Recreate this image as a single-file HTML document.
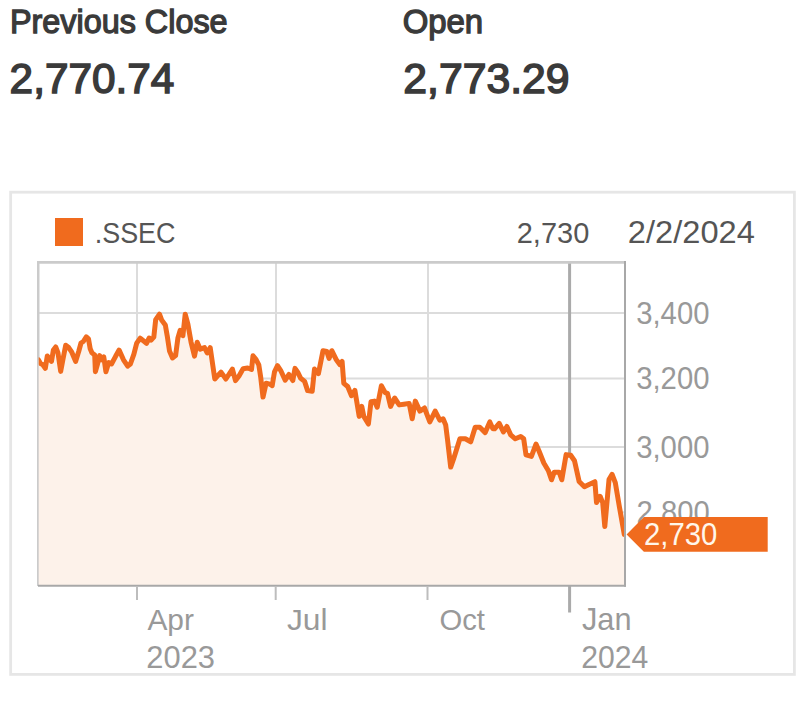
<!DOCTYPE html>
<html><head><meta charset="utf-8"><style>
html,body{margin:0;padding:0;background:#fff;width:800px;height:718px;overflow:hidden}
svg{position:absolute;left:0;top:0;display:block}
</style></head><body>
<svg width="800" height="718" viewBox="0 0 800 718" font-family="Liberation Sans, sans-serif">
<text x="9.96" y="33.35" font-size="32.99" textLength="217.67" lengthAdjust="spacingAndGlyphs" fill="#3a3a3a" stroke="#3a3a3a" stroke-width="1.3">Previous Close</text>
<text x="9.64" y="93.15" font-size="41.86" textLength="164.77" lengthAdjust="spacingAndGlyphs" fill="#3a3a3a" stroke="#3a3a3a" stroke-width="1.5">2,770.74</text>
<text x="402.64" y="33.35" font-size="32.99" textLength="80.52" lengthAdjust="spacingAndGlyphs" fill="#3a3a3a" stroke="#3a3a3a" stroke-width="1.3">Open</text>
<text x="403.26" y="93.15" font-size="41.86" textLength="166.33" lengthAdjust="spacingAndGlyphs" fill="#3a3a3a" stroke="#3a3a3a" stroke-width="1.5">2,773.29</text>
<rect x="10.65" y="192.2" width="783.75" height="482.2" fill="#fff" stroke="#e6e6e6" stroke-width="2.8"/>
<defs><clipPath id="pc"><rect x="38.7" y="200" width="586.3" height="385"/></clipPath></defs>
<rect x="55" y="218" width="28" height="28" fill="#f06b1e"/>
<text x="94.74" y="243.10" font-size="30.23" textLength="80.76" lengthAdjust="spacingAndGlyphs" fill="#555555">.SSEC</text>
<text x="516.78" y="243.00" font-size="30.09" textLength="72.49" lengthAdjust="spacingAndGlyphs" fill="#555555">2,730</text>
<text x="627.86" y="243.30" font-size="30.67" textLength="126.97" lengthAdjust="spacingAndGlyphs" fill="#555555">2/2/2024</text>
<g stroke="#dcdcdc" stroke-width="2">
<line x1="137" y1="262" x2="137" y2="585"/>
<line x1="276" y1="262" x2="276" y2="585"/>
<line x1="428" y1="262" x2="428" y2="585"/>
<line x1="38" y1="313" x2="625" y2="313"/>
<line x1="38" y1="378.6" x2="625" y2="378.6"/>
<line x1="38" y1="446.9" x2="625" y2="446.9"/>
<line x1="38" y1="512.2" x2="625" y2="512.2"/>
</g>
<line x1="569.6" y1="262" x2="569.6" y2="612.4" stroke="#aaa" stroke-width="3"/>
<line x1="37" y1="262.3" x2="625" y2="262.3" stroke="#cbcbcb" stroke-width="2.7"/>
<line x1="38.25" y1="261" x2="38.25" y2="586" stroke="#cbcbcb" stroke-width="2.5"/>
<path d="M38.7,359.9 L40.7,363.7 42.7,364.5 45.3,368.3 47.3,356.0 49.6,359.1 51.5,361.4 53.4,349.9 55.7,346.9 58.0,353.0 60.7,371.4 63.0,359.1 65.7,345.3 68.7,347.6 71.8,352.2 75.6,361.4 78.7,351.5 81.0,343.0 83.3,341.5 86.3,336.9 88.5,338.9 90.2,348.7 92.0,352.9 94.7,355.0 95.4,371.7 97.5,364.0 99.6,355.6 101.4,359.8 103.8,357.0 105.9,371.7 108.7,362.6 111.5,364.0 115.6,356.3 119.1,350.1 123.5,359.8 127.7,366.1 130.4,364.0 133.9,354.2 136.7,343.1 140.2,338.2 143.7,341.0 146.5,343.3 149.2,338.0 151.1,340.2 153.8,337.2 155.7,319.6 159.5,314.2 161.8,320.3 165.3,324.9 167.2,335.7 169.5,351.0 172.5,357.9 175.6,355.6 177.9,338.0 180.2,330.3 182.9,335.7 185.2,314.2 187.9,324.2 191.1,342.3 194.5,356.1 197.2,342.3 200.3,349.2 204.5,347.6 207.2,353.0 210.2,347.6 214.8,379.0 221.0,372.1 225.9,379.0 232.4,369.1 235.5,380.6 239.0,376.0 243.1,368.8 247.7,368.0 251.5,369.5 253.0,355.7 256.1,359.6 258.8,364.9 260.7,377.2 263.0,397.1 266.1,383.3 269.9,384.1 272.2,385.6 274.5,371.8 277.5,365.7 280.6,370.3 285.2,380.2 289.0,374.5 292.8,380.5 295.0,368.4 297.7,372.2 300.7,378.3 304.6,381.4 307.6,390.6 312.2,391.3 314.5,369.1 318.4,373.7 323.0,350.7 326.8,351.5 329.1,358.4 331.8,350.7 336.0,359.2 339.8,364.5 342.1,361.5 343.8,383.4 347.7,386.5 351.5,395.7 354.9,390.3 359.2,416.4 361.8,406.4 363.8,416.4 368.4,424.0 371.0,401.8 374.5,401.1 377.2,407.2 381.4,385.7 385.2,392.6 387.5,393.4 390.6,406.4 394.6,398.0 399.2,404.9 403.8,404.2 409.2,403.4 412.2,418.7 415.3,401.1 419.9,411.1 424.5,408.0 429.8,421.8 435.2,411.1 439.8,420.2 443.1,418.8 445.7,425.0 447.7,441.1 450.7,467.1 453.4,459.4 459.9,438.8 465.3,438.8 470.7,441.8 475.2,427.3 479.8,427.3 485.2,432.6 489.8,421.9 492.9,428.8 494.6,428.8 499.2,423.4 503.4,431.9 506.9,426.5 510.7,434.9 515.3,438.8 520.7,436.5 523.7,438.8 526.0,454.8 531.4,456.4 536.0,444.1 539.0,451.0 543.8,463.0 548.4,470.7 551.5,479.8 554.2,472.2 559.2,472.2 561.8,479.8 566.1,454.6 570.7,455.3 574.5,460.7 579.1,481.4 584.4,486.7 589.0,484.4 594.9,481.7 596.5,502.6 600.1,496.3 602.7,502.6 604.8,526.6 609.0,479.6 612.1,474.4 615.3,482.7 619.4,506.8 624.3,534.5 L625,585 L38.7,585 Z" fill="#fdf2ea"/>
<polyline clip-path="url(#pc)" points="38.4,359.9 40.7,363.7 42.7,364.5 45.3,368.3 47.3,356.0 49.6,359.1 51.5,361.4 53.4,349.9 55.7,346.9 58.0,353.0 60.7,371.4 63.0,359.1 65.7,345.3 68.7,347.6 71.8,352.2 75.6,361.4 78.7,351.5 81.0,343.0 83.3,341.5 86.3,336.9 88.5,338.9 90.2,348.7 92.0,352.9 94.7,355.0 95.4,371.7 97.5,364.0 99.6,355.6 101.4,359.8 103.8,357.0 105.9,371.7 108.7,362.6 111.5,364.0 115.6,356.3 119.1,350.1 123.5,359.8 127.7,366.1 130.4,364.0 133.9,354.2 136.7,343.1 140.2,338.2 143.7,341.0 146.5,343.3 149.2,338.0 151.1,340.2 153.8,337.2 155.7,319.6 159.5,314.2 161.8,320.3 165.3,324.9 167.2,335.7 169.5,351.0 172.5,357.9 175.6,355.6 177.9,338.0 180.2,330.3 182.9,335.7 185.2,314.2 187.9,324.2 191.1,342.3 194.5,356.1 197.2,342.3 200.3,349.2 204.5,347.6 207.2,353.0 210.2,347.6 214.8,379.0 221.0,372.1 225.9,379.0 232.4,369.1 235.5,380.6 239.0,376.0 243.1,368.8 247.7,368.0 251.5,369.5 253.0,355.7 256.1,359.6 258.8,364.9 260.7,377.2 263.0,397.1 266.1,383.3 269.9,384.1 272.2,385.6 274.5,371.8 277.5,365.7 280.6,370.3 285.2,380.2 289.0,374.5 292.8,380.5 295.0,368.4 297.7,372.2 300.7,378.3 304.6,381.4 307.6,390.6 312.2,391.3 314.5,369.1 318.4,373.7 323.0,350.7 326.8,351.5 329.1,358.4 331.8,350.7 336.0,359.2 339.8,364.5 342.1,361.5 343.8,383.4 347.7,386.5 351.5,395.7 354.9,390.3 359.2,416.4 361.8,406.4 363.8,416.4 368.4,424.0 371.0,401.8 374.5,401.1 377.2,407.2 381.4,385.7 385.2,392.6 387.5,393.4 390.6,406.4 394.6,398.0 399.2,404.9 403.8,404.2 409.2,403.4 412.2,418.7 415.3,401.1 419.9,411.1 424.5,408.0 429.8,421.8 435.2,411.1 439.8,420.2 443.1,418.8 445.7,425.0 447.7,441.1 450.7,467.1 453.4,459.4 459.9,438.8 465.3,438.8 470.7,441.8 475.2,427.3 479.8,427.3 485.2,432.6 489.8,421.9 492.9,428.8 494.6,428.8 499.2,423.4 503.4,431.9 506.9,426.5 510.7,434.9 515.3,438.8 520.7,436.5 523.7,438.8 526.0,454.8 531.4,456.4 536.0,444.1 539.0,451.0 543.8,463.0 548.4,470.7 551.5,479.8 554.2,472.2 559.2,472.2 561.8,479.8 566.1,454.6 570.7,455.3 574.5,460.7 579.1,481.4 584.4,486.7 589.0,484.4 594.9,481.7 596.5,502.6 600.1,496.3 602.7,502.6 604.8,526.6 609.0,479.6 612.1,474.4 615.3,482.7 619.4,506.8 624.3,534.5" fill="none" stroke="#f06b1e" stroke-width="5" stroke-linejoin="round" stroke-linecap="round"/>
<line x1="38" y1="585.75" x2="626" y2="585.75" stroke="#a8a8a8" stroke-width="2"/>
<line x1="625" y1="261" x2="625" y2="586.75" stroke="#a8a8a8" stroke-width="2"/>
<g stroke="#bdbdbd" stroke-width="2">
<line x1="137" y1="586.5" x2="137" y2="600"/>
<line x1="275.7" y1="586.5" x2="275.7" y2="600"/>
<line x1="427.5" y1="586.5" x2="427.5" y2="600"/>
</g>
<text x="636.19" y="323.65" font-size="30.96" textLength="73.27" lengthAdjust="spacingAndGlyphs" fill="#999999">3,400</text>
<text x="636.19" y="389.25" font-size="30.96" textLength="73.27" lengthAdjust="spacingAndGlyphs" fill="#999999">3,200</text>
<text x="636.19" y="457.55" font-size="30.96" textLength="73.27" lengthAdjust="spacingAndGlyphs" fill="#999999">3,000</text>
<text x="636.56" y="522.55" font-size="30.96" textLength="73.25" lengthAdjust="spacingAndGlyphs" fill="#999999">2,800</text>
<text x="147.39" y="629.80" font-size="30.23" textLength="46.55" lengthAdjust="spacingAndGlyphs" fill="#999999">Apr</text>
<text x="146.36" y="667.70" font-size="31.40" textLength="68.60" lengthAdjust="spacingAndGlyphs" fill="#999999">2023</text>
<text x="286.98" y="629.70" font-size="29.80" textLength="40.61" lengthAdjust="spacingAndGlyphs" fill="#999999">Jul</text>
<text x="439.42" y="629.70" font-size="30.09" textLength="45.49" lengthAdjust="spacingAndGlyphs" fill="#999999">Oct</text>
<text x="581.96" y="630.00" font-size="30.52" textLength="49.61" lengthAdjust="spacingAndGlyphs" fill="#999999">Jan</text>
<text x="581.30" y="667.70" font-size="31.40" textLength="67.02" lengthAdjust="spacingAndGlyphs" fill="#999999">2024</text>
<polygon points="626.6,534.4 643.9,517.1 767.7,517.1 767.7,551.7 643.9,551.7" fill="#f06b1e"/>
<text x="644.03" y="544.70" font-size="31.54" textLength="73.35" lengthAdjust="spacingAndGlyphs" fill="#fff6ea">2,730</text>
</svg>
</body></html>
